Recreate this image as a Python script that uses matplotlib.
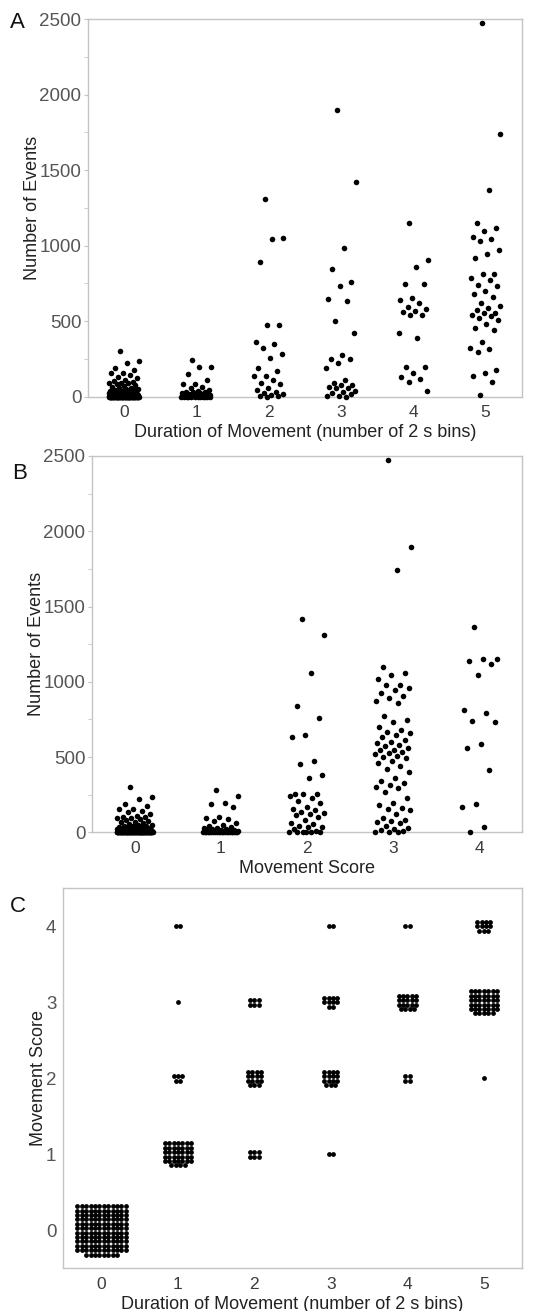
import math
import numpy as np
from matplotlib import pyplot as plt
from matplotlib import font_manager
from matplotlib.ticker import MultipleLocator

# number of events, grouped by duration of movement (number of 2 s bins)
events_dur0 = [304, 236, 220, 187, 176, 154, 154, 143, 132, 121, 110, 104, 99, 93, 93, 88, 82, 77, 71, 66, 60, 55,
               51, 48, 44, 42, 40, 38, 35, 33, 31, 30, 28, 27, 26, 25, 24, 22, 21, 20, 19, 18, 17, 16, 15, 15,
               14, 13, 12, 12, 11, 10, 10, 9, 9, 8, 8, 7, 7, 6, 6, 6, 5, 5, 5, 5, 4, 4, 4, 4, 3, 3, 3, 3, 3,
               2, 2, 2, 2, 2, 2, 1, 1, 1, 1, 1, 1, 1,
               0, 0, 0, 0, 0, 0, 0, 0, 0, 0, 0, 0, 0, 0, 0, 0, 0, 0, 0, 0, 0, 0, 0, 0, 0, 0,
               0, 0, 0, 0, 0, 0, 0, 0, 0, 0, 0, 0, 0, 0, 0, 0, 0, 0, 0, 0, 0, 0, 0, 0, 0, 0]
events_dur1 = [243, 198, 198, 150, 110, 82, 82, 66, 55, 44, 40, 33, 33, 30, 26, 22, 20, 18, 15, 13,
               12, 10, 9, 8, 7, 6, 5, 5, 4, 4, 3, 3, 2, 2, 2, 1, 1, 1, 1, 0, 0, 0, 0, 0, 0, 0, 0]
events_dur2 = [1307, 1052, 1047, 889, 474, 474, 364, 348, 324, 282, 258, 187, 170, 139, 139, 110,
               93, 82, 55, 44, 33, 26, 15, 11, 5, 2, 0]
events_dur3 = [1896, 1420, 981, 845, 756, 732, 646, 633, 503, 419, 276, 249, 249, 220, 187, 110,
               88, 77, 77, 66, 60, 55, 40, 33, 22, 15, 4, 4, 0]
events_dur4 = [1147, 904, 860, 745, 745, 650, 640, 620, 595, 580, 567, 560, 540, 540, 419, 386,
               198, 198, 154, 132, 115, 99, 40]
events_dur5 = [2474, 1742, 1367, 1153, 1114, 1098, 1058, 1047, 1030, 970, 944, 920, 811, 811, 787,
               772, 739, 734, 700, 677, 661, 617, 600, 584, 573, 556, 551, 540, 534, 520, 507, 480,
               456, 441, 364, 324, 315, 293, 176, 154, 139, 95, 11]

# number of events, grouped by movement score (score 0 = the duration 0 animals)
events_sc0 = events_dur0
events_sc1 = [281, 241, 193, 186, 170, 104, 93, 86, 75, 60, 49, 40, 35, 30, 26, 22, 20, 18, 15, 12,
              10, 9, 8, 7, 6, 5, 4, 4, 3, 3, 2, 2, 1, 1, 1, 0, 0, 0, 0, 0, 0, 0, 0, 0, 0, 0, 0]
events_sc2 = [1417, 1311, 1056, 841, 757, 646, 631, 476, 452, 381, 359, 255, 255, 255, 240, 226,
              210, 197, 165, 153, 148, 137, 131, 120, 115, 100, 82, 60, 55, 45, 38, 33, 20, 10,
              4, 4, 2, 0, 0, 0]
events_sc3 = [2473, 1897, 1742, 1096, 1056, 1045, 1020, 979, 979, 960, 945, 923, 905, 890, 870, 857,
              773, 746, 735, 700, 680, 669, 657, 646, 631, 613, 600, 591, 580, 573, 558, 547, 547,
              536, 525, 520, 507, 503, 492, 476, 460, 441, 421, 400, 359, 340, 325, 314, 300, 292,
              270, 230, 197, 182, 160, 153, 148, 120, 97, 82, 75, 71, 60, 40, 30, 20, 15, 10, 5, 0, 0]
events_sc4 = [1366, 1151, 1149, 1140, 1116, 1045, 812, 795, 741, 735, 584, 562, 414, 186, 170, 33, 0]

durations = [0, 1, 2, 3, 4, 5]
scores = [0, 1, 2, 3, 4]

# panel C: animals per cell, rows = movement score 0..4, columns = duration 0..5
counts = [
    [140, 0, 0, 0, 0, 0],
    [0, 39, 6, 2, 0, 0],
    [0, 5, 15, 15, 4, 1],
    [0, 1, 6, 10, 19, 40],
    [0, 2, 0, 2, 2, 11],
]

dur_label = 'Duration of Movement (number of 2 s bins)'

available = {f.name for f in font_manager.fontManager.ttflist}
narrow = 'Liberation Sans Narrow' if 'Liberation Sans Narrow' in available else 'Liberation Sans'
plt.rcParams['font.family'] = ['Liberation Sans', 'DejaVu Sans']

W, H = 538, 1311
fig = plt.figure(figsize=(W / 100, H / 100), dpi=100)


def box(l, t, r, b):
    return fig.add_axes([l / W, 1 - b / H, (r - l) / W, (b - t) / H])


def jitter(n, width):
    k = np.arange(n)
    return ((k * 0.6180339887 + 0.37) % 1.0 - 0.5) * 2 * width


def style(ax, ylabel, xlabel, ylab_x):
    for sp in ax.spines.values():
        sp.set_color('#c4c4c4')
        sp.set_linewidth(1.0)
    ax.tick_params(axis='x', length=0, pad=6, labelsize=12.5, labelcolor='#3c3c3c')
    ax.tick_params(axis='y', which='both', color='#c4c4c4', labelcolor='#555555', pad=1.5)
    ax.tick_params(axis='y', which='major', length=3)
    ax.tick_params(axis='y', which='minor', length=3)
    for lab in ax.get_yticklabels():
        lab.set_fontfamily(narrow)
        lab.set_fontsize(13.5)
    ax.set_ylabel(ylabel, fontsize=13, color='#222222')
    ax.yaxis.set_label_coords(ylab_x, 0.5)
    ax.yaxis.label.set_va('center')
    ax.set_xlabel(xlabel, fontsize=13, color='#222222', labelpad=3)


def strip(ax, groups, positions):
    for pos, vals in zip(positions, groups):
        vals = np.asarray(vals, dtype=float)
        ax.scatter(pos + jitter(len(vals), 0.21), vals, s=16, c='black',
                   linewidths=0, clip_on=False, zorder=3)


# panel A
axA = box(87.7, 19, 521.7, 396.7)
strip(axA, [events_dur0, events_dur1, events_dur2, events_dur3, events_dur4, events_dur5], durations)
axA.set_xlim(-0.5, 5.5)
axA.set_ylim(0, 2500)
axA.set_xticks(durations)
axA.yaxis.set_major_locator(MultipleLocator(500))
axA.yaxis.set_minor_locator(MultipleLocator(250))
style(axA, 'Number of Events', dur_label, -0.128)

# panel B
axB = box(91.7, 456, 522, 832.3)
strip(axB, [events_sc0, events_sc1, events_sc2, events_sc3, events_sc4], scores)
axB.set_xlim(-0.5, 4.5)
axB.set_ylim(0, 2500)
axB.set_xticks(scores)
axB.yaxis.set_major_locator(MultipleLocator(500))
axB.yaxis.set_minor_locator(MultipleLocator(250))
style(axB, 'Number of Events', 'Movement Score', -0.128)

# panel C
axC = box(63.3, 888.3, 522, 1268.3)
axC.set_xlim(-0.5, 5.5)
axC.set_ylim(-0.5, 4.5)
dx = 4.4 / (458.7 / 6)
dy = 4.4 / (380 / 5)
for si, row in enumerate(counts):
    for di, n in enumerate(row):
        if n == 0:
            continue
        ncol = math.ceil(math.sqrt(n))
        nrow = math.ceil(n / ncol)
        xs, ys = [], []
        for i in range(n):
            r, c = divmod(i, ncol)
            in_row = ncol if r < nrow - 1 else n - ncol * (nrow - 1)
            xs.append(durations[di] + (c - (in_row - 1) / 2) * dx)
            ys.append(scores[si] + ((nrow - 1) / 2 - r) * dy)
        axC.scatter(xs, ys, s=12, c='black', linewidths=0, zorder=3)
axC.set_xticks(durations)
axC.set_yticks(scores)
style(axC, 'Movement Score', dur_label, -0.055)
axC.tick_params(axis='y', length=0, pad=5)

# panel letters
for letter, xp, yp in [('A', 10, 22), ('B', 12, 474), ('C', 10, 907)]:
    fig.text(xp / W, 1 - yp / H, letter, fontsize=16, ha='left', va='center', color='#111111')

fig.savefig('out.png', dpi=100)
